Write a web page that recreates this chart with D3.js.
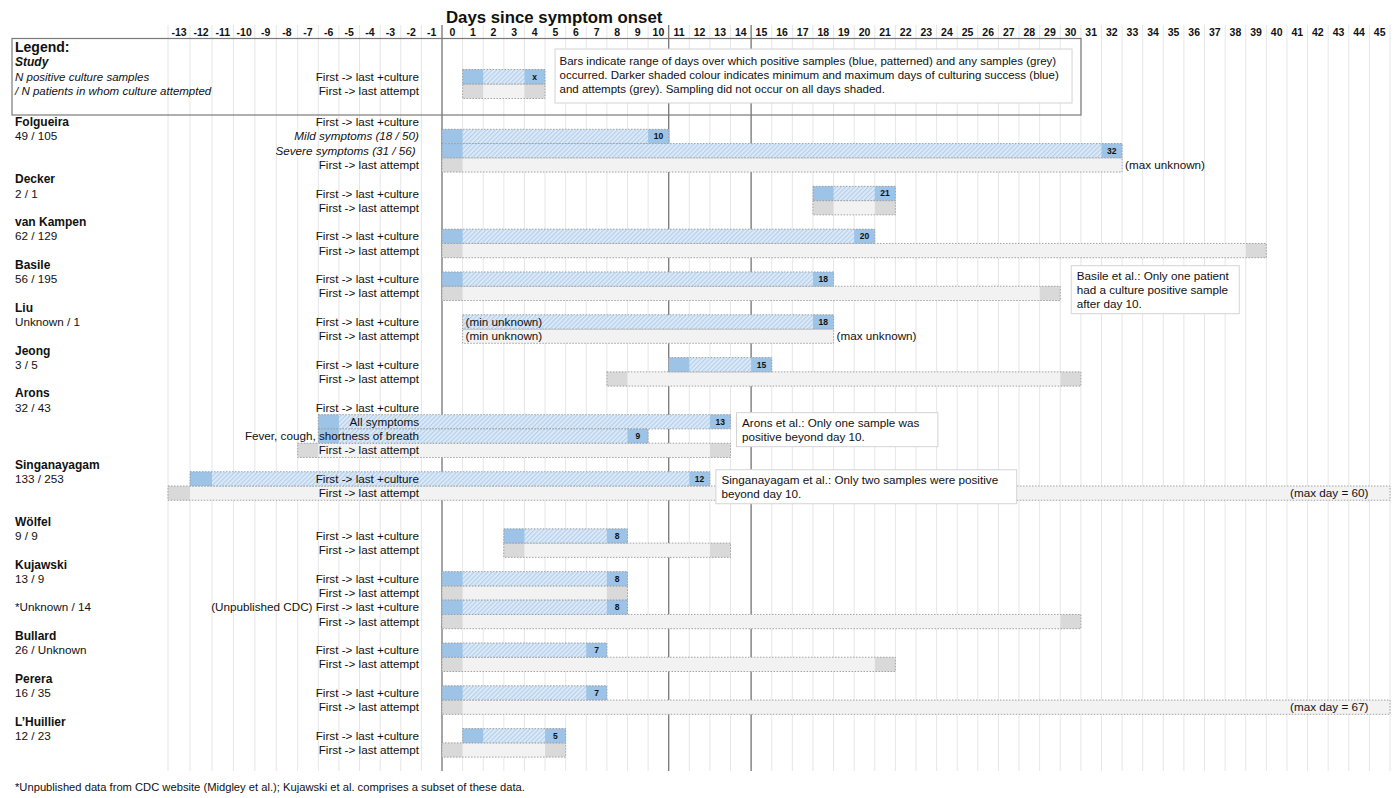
<!DOCTYPE html>
<html><head><meta charset="utf-8">
<script src="https://cdn.jsdelivr.net/npm/d3@7"></script>
<style>body{margin:0;background:#fff}text{font-family:"Liberation Sans",Arial,sans-serif;fill:#111}</style>
</head><body><svg id="c" width="1399" height="798"></svg>
<script>
// ---------------- DATA ----------------
const days = d3.range(-13, 46);
const tickLabels = days.map(String);
const rowIds = ["folg-0","folg-mild","folg-sev","folg-att","deck-0","deck-cul","deck-att","vk-0","vk-cul","vk-att",
  "bas-0","bas-cul","bas-att","liu-0","liu-cul","liu-att","jeo-0","jeo-cul","jeo-att","aro-0","aro-cul","aro-all",
  "aro-fev","aro-att","sin-0","sin-cul","sin-att","gap","wol-0","wol-cul","wol-att","kuj-0","kuj-cul","kuj-att",
  "cdc-cul","cdc-att","bul-0","bul-cul","bul-att","per-0","per-cul","per-att","lhu-0","lhu-cul","lhu-att","end"];
const studyNames = [["folg-0","Folgueira"],["deck-0","Decker"],["vk-0","van Kampen"],["bas-0","Basile"],["liu-0","Liu"],
  ["jeo-0","Jeong"],["aro-0","Arons"],["sin-0","Singanayagam"],["wol-0","Wölfel"],["kuj-0","Kujawski"],
  ["bul-0","Bullard"],["per-0","Perera"],["lhu-0","L’Huillier"]];
const studyCounts = [["folg-mild","49 / 105"],["deck-cul","2 / 1"],["vk-cul","62 / 129"],["bas-cul","56 / 195"],
  ["liu-cul","Unknown / 1"],["jeo-cul","3 / 5"],["aro-cul","32 / 43"],["sin-cul","133 / 253"],["wol-cul","9 / 9"],
  ["kuj-cul","13 / 9"],["cdc-cul","*Unknown / 14"],["bul-cul","26 / Unknown"],["per-cul","16 / 35"],["lhu-cul","12 / 23"]];
const CUL = "First -> last +culture", ATT = "First -> last attempt";
const rowLabels = [["folg-0",CUL,false],["folg-mild","Mild symptoms (18 / 50)",true],["folg-sev","Severe symptoms (31 / 56) ",true],
  ["folg-att",ATT,false],["deck-cul",CUL,false],["deck-att",ATT,false],["vk-cul",CUL,false],["vk-att",ATT,false],
  ["bas-cul",CUL,false],["bas-att",ATT,false],["liu-cul",CUL,false],["liu-att",ATT,false],["jeo-cul",CUL,false],
  ["jeo-att",ATT,false],["aro-cul",CUL,false],["aro-all","All symptoms",false],["aro-fev","Fever, cough, shortness of breath",false],
  ["aro-att",ATT,false],["sin-cul",CUL,false],["sin-att",ATT,false],["wol-cul",CUL,false],["wol-att",ATT,false],
  ["kuj-cul",CUL,false],["kuj-att",ATT,false],["cdc-cul","(Unpublished CDC) "+CUL,false],["cdc-att",ATT,false],
  ["bul-cul",CUL,false],["bul-att",ATT,false],["per-cul",CUL,false],["per-att",ATT,false],["lhu-cul",CUL,false],["lhu-att",ATT,false]];
// [row, first day, last day, dark first, dark last, label]
const cultureRanges = [["folg-mild",0,10,true,true,"10"],["folg-sev",0,32,true,true,"32"],["deck-cul",18,21,true,true,"21"],
  ["vk-cul",0,20,true,true,"20"],["bas-cul",0,18,true,true,"18"],["liu-cul",1,18,false,true,"18"],["jeo-cul",11,15,true,true,"15"],
  ["aro-all",-6,13,true,true,"13"],["aro-fev",-6,9,true,true,"9"],["sin-cul",-12,12,true,true,"12"],["wol-cul",3,8,true,true,"8"],
  ["kuj-cul",0,8,true,true,"8"],["cdc-cul",0,8,true,true,"8"],["bul-cul",0,7,true,true,"7"],["per-cul",0,7,true,true,"7"],
  ["lhu-cul",1,5,true,true,"5"]];
const attemptRanges = [["folg-att",0,32,true,false],["deck-att",18,21,true,true],["vk-att",0,39,true,true],["bas-att",0,29,true,true],
  ["liu-att",1,18,false,false],["jeo-att",8,30,true,true],["aro-att",-7,13,true,true],["sin-att",-13,45,true,false],
  ["wol-att",3,13,true,true],["kuj-att",0,8,true,true],["cdc-att",0,30,true,true],["bul-att",0,21,true,true],
  ["per-att",0,45,true,false],["lhu-att",0,5,true,true]];
// [row, text, day, anchor]
const rangeNotes = [["folg-att","(max unknown)",33,"start"],["liu-cul","(min unknown)",1,"start"],["liu-att","(min unknown)",1,"start"],
  ["liu-att","(max unknown)",19,"start"],["sin-att","(max day = 60)",45,"end"],["per-att","(max day = 67)",45,"end"]];
const legendCulture = ["leg-cul",1,4,true,true,"x"];
const legendAttempt = ["leg-att",1,4,true,true];
const callouts = [
  {row:"bas-0", day:30, lines:["Basile et al.: Only one patient","had a culture positive sample","after day 10."]},
  {row:"aro-all", day:14, lines:["Arons et al.: Only one sample was","positive beyond day 10."]},
  {row:"sin-cul", day:13, lines:["Singanayagam et al.: Only two samples were positive","beyond day 10."]}];
const legendLines = ["Bars indicate range of days over which positive samples (blue, patterned) and any samples (grey)",
  "occurred. Darker shaded colour indicates minimum and maximum days of culturing success (blue)",
  "and attempts (grey). Sampling did not occur on all days shaded."];
const footnote = "*Unpublished data from CDC website (Midgley et al.); Kujawski et al. comprises a subset of these data.";

// ---------------- LAYOUT ----------------
const svg = d3.select("#c");
const x = d3.scaleLinear().domain([-13,-11,-7,0,46]).range([168,212,297.7,442,1390]);
const y = d3.scaleBand().domain(rowIds).range([115,771.4]);
const yl = d3.scaleBand().domain(["leg-cul","leg-att"]).range([69.5,98.5]);
const gridTop = 25, gridBot = 771;
const C = {dark:"#9dc3e6", hatchBg:"#dce9f7", hatchLine:"#b3cfec", gDark:"#d9d9d9", gLight:"#f2f2f2", border:"#9a9a9a"};

const defs = svg.append("defs");
const pat = defs.append("pattern").attr("id","hatch").attr("patternUnits","userSpaceOnUse")
  .attr("width",3.2).attr("height",3.2).attr("patternTransform","rotate(45)");
pat.append("rect").attr("width",3.2).attr("height",3.2).attr("fill",C.hatchBg);
pat.append("line").attr("x1",0.6).attr("y1",0).attr("x2",0.6).attr("y2",3.2).attr("stroke",C.hatchLine).attr("stroke-width",1.1);

// gridlines
const grid = svg.append("g");
grid.selectAll("line").data(d3.range(-13,47)).join("line")
  .attr("x1",d=>x(d)).attr("x2",d=>x(d)).attr("y1",gridTop).attr("y2",gridBot)
  .attr("stroke","#e6e6e6").attr("stroke-width",1);
grid.selectAll("line.major").data([0,11,15]).join("line").attr("class","major")
  .attr("x1",d=>x(d)).attr("x2",d=>x(d)).attr("y1",gridTop).attr("y2",gridBot)
  .attr("stroke","#7a7a7a").attr("stroke-width",1.3);

// axis (top)
const axis = d3.axisTop(d3.scaleBand().domain(tickLabels).range([x(-13),x(46)]).paddingInner(0))
  .tickSize(0).tickPadding(0);
const ag = svg.append("g").attr("transform",`translate(0,36)`).call(axis);
ag.select(".domain").remove();
ag.selectAll("text").attr("font-size",10.5).attr("font-weight","bold").style("font-family","'Liberation Sans',Arial,sans-serif").attr("fill","#111")
  .attr("x",0).attr("dy",0);
ag.selectAll(".tick").attr("transform",d=>`translate(${(x(+d)+x(+d+1))/2},0)`);

svg.append("text").attr("x",x(0)+4).attr("y",23).attr("font-size",16.8).attr("font-weight","bold").text("Days since symptom onset");

// legend box
svg.append("rect").attr("x",12).attr("y",38.5).attr("width",1069).attr("height",76.5)
  .attr("fill","none").attr("stroke","#7a7a7a").attr("stroke-width",1.2);
svg.append("text").attr("x",15).attr("y",52).attr("font-size",14).attr("font-weight","bold").text("Legend:");
svg.append("text").attr("x",15).attr("y",66).attr("font-size",12).attr("font-weight","bold").attr("font-style","italic").text("Study");
svg.append("text").attr("x",15).attr("y",yl("leg-cul")+yl.bandwidth()/2).attr("dy","0.35em").attr("font-size",11.5).attr("font-style","italic").text("N positive culture samples");
svg.append("text").attr("x",15).attr("y",yl("leg-att")+yl.bandwidth()/2).attr("dy","0.35em").attr("font-size",11.5).attr("font-style","italic").text("/ N patients in whom culture attempted");
svg.append("text").attr("x",419).attr("y",yl("leg-cul")+yl.bandwidth()/2).attr("dy","0.35em").attr("text-anchor","end").attr("font-size",11.7).text(CUL);
svg.append("text").attr("x",419).attr("y",yl("leg-att")+yl.bandwidth()/2).attr("dy","0.35em").attr("text-anchor","end").attr("font-size",11.7).text(ATT);

// bars
function bar(g, yy, h, s, e, ds, de, kind, label){
  const fillMain = kind==="cul" ? "url(#hatch)" : C.gLight;
  const fillDark = kind==="cul" ? C.dark : C.gDark;
  g.append("rect").attr("x",x(s)).attr("y",yy).attr("width",x(e+1)-x(s)).attr("height",h).attr("fill",fillMain);
  if(ds) g.append("rect").attr("x",x(s)).attr("y",yy).attr("width",x(s+1)-x(s)).attr("height",h).attr("fill",fillDark);
  if(de) g.append("rect").attr("x",x(e)).attr("y",yy).attr("width",x(e+1)-x(e)).attr("height",h).attr("fill",fillDark);
  g.append("rect").attr("x",x(s)).attr("y",yy).attr("width",x(e+1)-x(s)).attr("height",h)
    .attr("fill","none").attr("stroke",C.border).attr("stroke-width",0.9).attr("stroke-dasharray","1.5,1.5");
  if(label) g.append("text").attr("x",(x(e)+x(e+1))/2).attr("y",yy+h/2).attr("dy","0.35em").attr("text-anchor","middle")
    .attr("font-size",8.5).attr("font-weight","bold").text(label);
}
const bars = svg.append("g");
attemptRanges.forEach(([r,s,e,ds,de])=>bar(bars,y(r),y.bandwidth(),s,e,ds,de,"att",null));
cultureRanges.forEach(([r,s,e,ds,de,l])=>bar(bars,y(r),y.bandwidth(),s,e,ds,de,"cul",l));
bar(bars,yl(legendAttempt[0]),yl.bandwidth(),legendAttempt[1],legendAttempt[2],legendAttempt[3],legendAttempt[4],"att",null);
bar(bars,yl(legendCulture[0]),yl.bandwidth(),legendCulture[1],legendCulture[2],legendCulture[3],legendCulture[4],"cul",legendCulture[5]);

// legend explanation box
const lb = svg.append("g");
lb.append("rect").attr("x",x(5)+10).attr("y",49).attr("width",517).attr("height",54).attr("fill","#fff").attr("stroke","#d4d4d4");
legendLines.forEach((t,i)=>lb.append("text").attr("x",x(5)+14.5).attr("y",61+i*14).attr("dy","0.35em").attr("font-size",11.5).text(t));

// row labels
const cy = r => y(r)+y.bandwidth()/2;
const lab = svg.append("g");
studyNames.forEach(([r,t])=>lab.append("text").attr("x",15).attr("y",cy(r)).attr("dy","0.35em").attr("font-size",12).attr("font-weight","bold").text(t));
studyCounts.forEach(([r,t])=>lab.append("text").attr("x",15).attr("y",cy(r)).attr("dy","0.35em").attr("font-size",11.7).text(t));
rowLabels.forEach(([r,t,it])=>lab.append("text").attr("x",419).attr("y",cy(r)).attr("dy","0.35em").attr("text-anchor","end")
  .attr("font-size",11.7).attr("font-style",it?"italic":"normal").attr("xml:space","preserve").style("white-space","pre").text(t));
rangeNotes.forEach(([r,t,d,a])=>lab.append("text").attr("x",a==="start"?x(d)+3:x(d)-1).attr("y",cy(r)).attr("dy","0.35em")
  .attr("text-anchor",a).attr("font-size",11.7).text(t));

// callouts
callouts.forEach(c=>{
  const g = svg.append("g");
  const three = c.lines.length===3;
  const x0 = x(c.day)+(three?11:6), y0 = y(c.row)+(three?8:-2);
  const tmp = c.lines.map(t=>g.append("text").attr("font-size",11.7).text(t));
  const w = d3.max(tmp,t=>t.node().getComputedTextLength());
  tmp.forEach(t=>t.remove());
  g.append("rect").attr("x",x0).attr("y",y0).attr("width",w+(three?16:24)).attr("height",c.lines.length*14+6).attr("fill","#fff").attr("stroke","#d4d4d4");
  c.lines.forEach((t,i)=>g.append("text").attr("x",x0+5.5).attr("y",y0+10+i*14).attr("dy","0.35em").attr("font-size",11.7).text(t));
});

svg.append("text").attr("x",15).attr("y",791).attr("font-size",11.2).text(footnote);
</script></body></html>
